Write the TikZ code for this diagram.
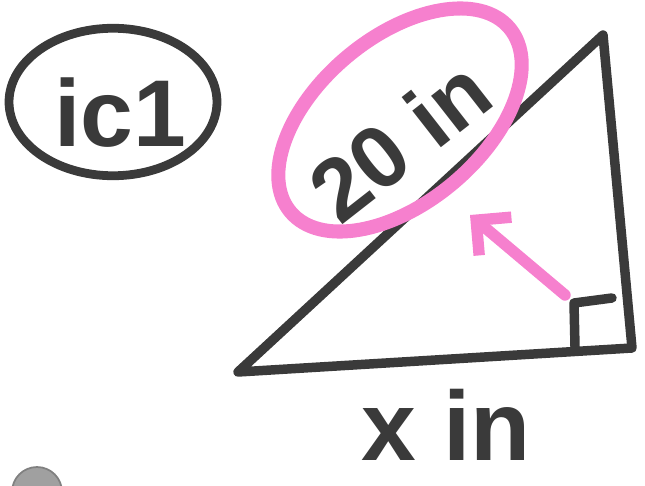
\documentclass[tikz,border=0pt]{standalone}
\usepackage{fontspec}
\setmainfont{Liberation Sans}
\usetikzlibrary{arrows.meta,shapes.geometric}
\definecolor{ink}{RGB}{58,58,58}
\definecolor{marker}{RGB}{246,128,206}
\definecolor{dotgray}{RGB}{160,160,160}

\begin{document}
\begin{tikzpicture}[
    x=0.02cm,y=-0.02cm,
    hand/.style={text=ink,font=\bfseries\fontsize{#1}{#1}\selectfont,inner sep=0pt},
    line/.style={draw=ink,line width=5.4pt,line cap=round,line join=round},
    ring/.style={ellipse,draw=marker,line width=8pt},
    arrow/.style={draw=marker,line width=6.5pt,line cap=round,
        -{Straight Barb[length=5mm,width=10mm,line width=6.5pt]}}
]
\useasboundingbox (0,0) rectangle (645,486);
% label circled at top left
\node[hand=54] (tag) at (120,113) {ic1};
\node[ellipse,draw=ink,line width=5pt,minimum width=4.16cm,
    minimum height=2.95cm] (tagring) at (113,102) {};
% triangle
\coordinate (A) at (238,372);
\coordinate (B) at (603,35);
\coordinate (C) at (632,348);
\draw[line] (A) -- (B) -- (C) -- cycle;
% right angle mark
\coordinate (sq1) at (575,347);
\coordinate (sq2) at (574,303);
\coordinate (sq3) at (612,298);
\draw[line] (sq1) -- (sq2) -- (sq3);
% hypotenuse label with marker
\node[hand=50,rotate=38] (hyp) at (400,140) {20 in};
\node[ring,minimum width=5.72cm,minimum height=3.3cm,rotate=40] (hypring) at (400,120) {};
\coordinate (tail) at (565,295);
\coordinate (head) at (470,215);
\draw[arrow] (tail) -- (head);
% base label
\node[hand=56] (base) at (446,425) {x in};
% grey dot, cut by the lower edge
\node[circle,fill=dotgray,draw=dotgray!80!black,line width=1pt,minimum size=1cm] (dot) at (37,492) {};
\end{tikzpicture}
\end{document}
